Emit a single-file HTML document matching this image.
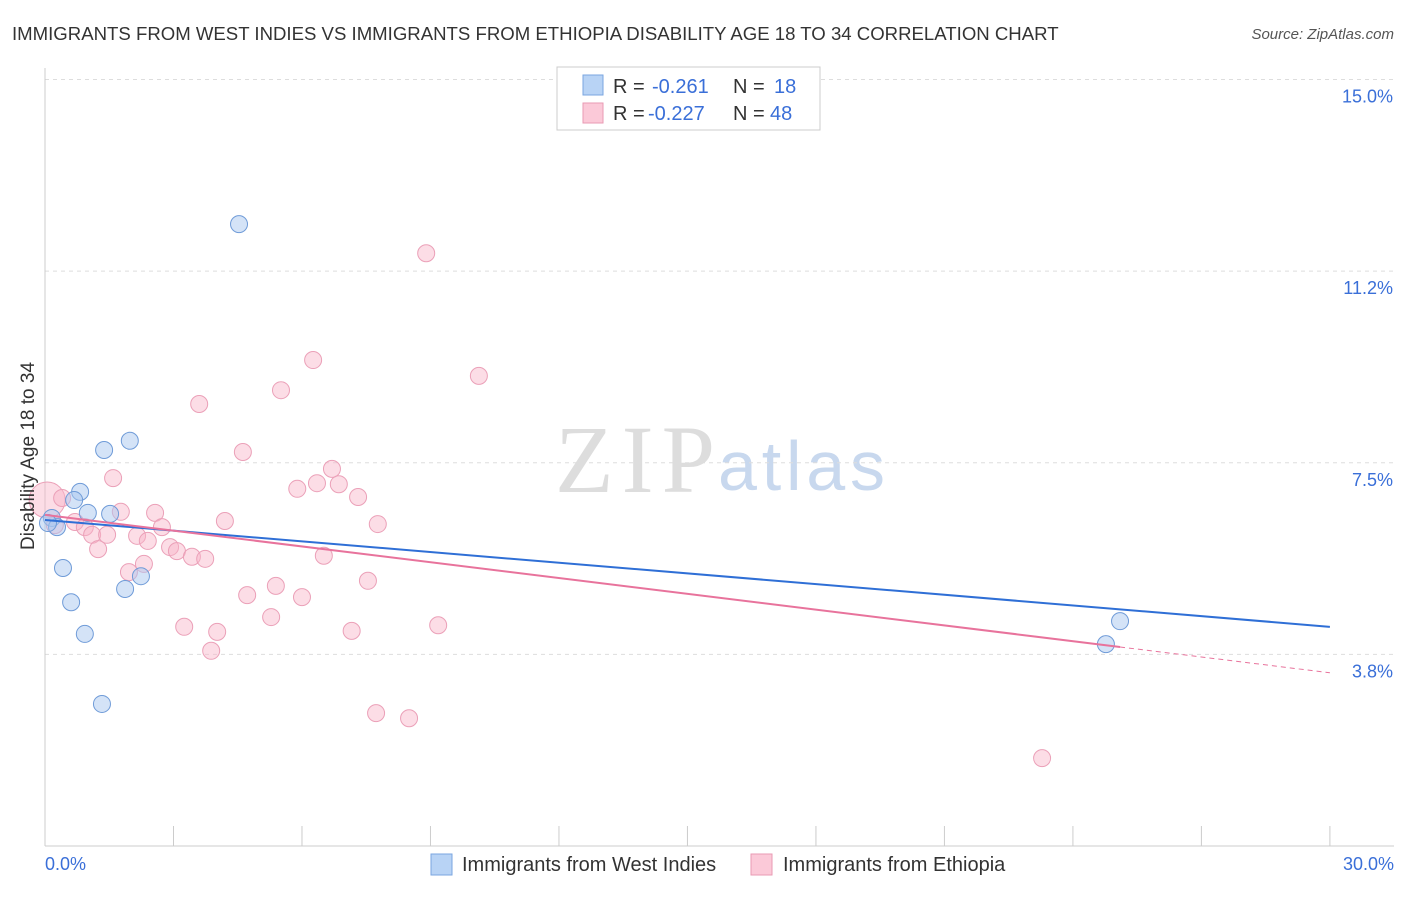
<!DOCTYPE html>
<html><head><meta charset="utf-8">
<style>
body{margin:0;background:#fff;font-family:"Liberation Sans",sans-serif;}
</style></head>
<body>
<svg id="chart" width="1406" height="892" xmlns="http://www.w3.org/2000/svg" font-family="Liberation Sans, sans-serif">
<text x="12" y="40" font-size="18.6" fill="#333">IMMIGRANTS FROM WEST INDIES VS IMMIGRANTS FROM ETHIOPIA DISABILITY AGE 18 TO 34 CORRELATION CHART</text>
<text x="1394" y="39" font-size="15" fill="#555" font-style="italic" text-anchor="end">Source: ZipAtlas.com</text>
<text x="715" y="492" font-size="96" fill="#ddd" style="font-family:'Liberation Serif',serif" text-anchor="end" textLength="160">ZIP</text>
<text x="718" y="490" font-size="70" fill="#c8d8ee" textLength="167">atlas</text>
<g id="grid"></g><g id="axes"></g><g id="marks"></g>
<text transform="translate(34,456) rotate(-90)" font-size="19" fill="#333" text-anchor="middle">Disability Age 18 to 34</text>
<g>
<rect x="557" y="67" width="263" height="63" fill="#fff" stroke="#ccc"/>
<rect x="583" y="75" width="20" height="20" fill="#b8d3f5" stroke="#7aa6e0"/>
<rect x="583" y="103" width="20" height="20" fill="#fbc9d8" stroke="#e89ab3"/>
<text x="613" y="93" font-size="20" fill="#333">R =</text>
<text x="652" y="93" font-size="20" fill="#3a6fd8">-0.261</text>
<text x="733" y="93" font-size="20" fill="#333">N =</text>
<text x="774" y="93" font-size="20" fill="#3a6fd8">18</text>
<text x="613" y="120" font-size="20" fill="#333">R =</text>
<text x="648" y="120" font-size="20" fill="#3a6fd8">-0.227</text>
<text x="733" y="120" font-size="20" fill="#333">N =</text>
<text x="770" y="120" font-size="20" fill="#3a6fd8">48</text>
</g>
<g>
<rect x="431" y="854" width="21" height="21" fill="#b8d3f5" stroke="#7aa6e0"/>
<text x="462" y="871" font-size="20" fill="#333">Immigrants from West Indies</text>
<rect x="751" y="854" width="21" height="21" fill="#fbc9d8" stroke="#e89ab3"/>
<text x="783" y="871" font-size="20" fill="#333">Immigrants from Ethiopia</text>
</g>
</svg>
<script>
const yTicks=[15.0,11.25,7.5,3.75];
const yTickLabels=["15.0%","11.2%","7.5%","3.8%"];
const xLabels=["0.0%","30.0%"];
const blueX=[0.16,0.28,0.42,0.61,0.82,0.68,1.0,0.93,1.38,1.33,1.52,1.87,1.98,2.24,4.53,24.77,25.1,0.07];
const blueY=[6.42,6.24,5.44,4.77,6.93,6.77,6.52,4.15,7.75,2.78,6.50,5.03,7.93,5.28,12.17,3.95,4.40,6.32];
const pinkX=[0.05,0.23,0.4,0.7,0.93,1.1,1.24,1.45,1.59,1.77,1.96,2.15,2.31,2.4,2.57,2.73,2.92,3.08,3.25,3.43,3.6,3.74,3.88,4.02,4.2,4.62,4.72,5.28,5.39,5.51,5.89,6.0,6.26,6.35,6.51,6.7,6.86,7.16,7.31,7.54,7.73,7.77,8.5,8.9,9.18,10.13,23.28];
const pinkY=[6.77,6.28,6.81,6.34,6.24,6.09,5.81,6.09,7.2,6.54,5.36,6.07,5.52,5.97,6.52,6.24,5.85,5.77,4.29,5.66,8.65,5.62,3.82,4.19,6.36,7.71,4.91,4.48,5.09,8.92,6.99,4.87,9.51,7.1,5.68,7.38,7.08,4.21,6.83,5.19,2.6,6.3,2.5,11.6,4.32,9.2,1.72];
const blueTrend=[6.38,-0.0697];
const pinkTrend=[6.48,-0.103];
const X=v=>45+v*42.83, Y=v=>846-v*51.1;
const NS="http://www.w3.org/2000/svg";
function mk(tag,attrs,parent){const e=document.createElementNS(NS,tag);for(const k in attrs)e.setAttribute(k,attrs[k]);document.getElementById(parent).appendChild(e);return e;}
yTicks.forEach((t,i)=>{
 const g=mk('line',{x1:45,x2:1394,y1:Y(t),y2:Y(t),stroke:'#ddd','stroke-dasharray':'4,4'},'grid');
 
 
 const l=mk('text',{x:1393,y:Y(t)+23,'font-size':18,fill:'#3a6fd8','text-anchor':'end'},'axes');l.textContent=yTickLabels[i];
 
 
});
mk('line',{x1:45,x2:45,y1:68,y2:846,stroke:'#ccc'},'axes');
mk('line',{x1:45,x2:1394,y1:846,y2:846,stroke:'#ccc'},'axes');
for(let i=0;i<=10;i++){const t=mk('line',{x1:X(i*3),x2:X(i*3),y1:826,y2:846,stroke:'#ccc'},'axes');
 
 }
[[0,'start',45],[30,'end',1394]].forEach((a,i)=>{const l=mk('text',{x:a[2],y:870,'font-size':18,fill:'#3a6fd8','text-anchor':a[1]},'axes');l.textContent=xLabels[i];
 
 });
pinkX.forEach((x,i)=>{const c=mk('circle',{cx:X(x),cy:Y(pinkY[i]),r:i==0?18:8.5,fill:'rgba(248,180,200,0.45)',stroke:'#eba0b8','stroke-width':1},'marks');
 
 });
blueX.forEach((x,i)=>{const c=mk('circle',{cx:X(x),cy:Y(blueY[i]),r:8.5,fill:'rgba(170,200,240,0.5)',stroke:'#6f9bd8','stroke-width':1},'marks');
 
 });
const bl=mk('line',{x1:X(0),y1:Y(blueTrend[0]),x2:X(30),y2:Y(blueTrend[0]+30*blueTrend[1]),stroke:'#2f6fd6','stroke-width':2},'marks');


const pl=mk('line',{x1:X(0),y1:Y(pinkTrend[0]),x2:X(25.1),y2:Y(pinkTrend[0]+25.1*pinkTrend[1]),stroke:'#e8739c','stroke-width':2},'marks');


const pd=mk('line',{x1:X(25.1),y1:Y(pinkTrend[0]+25.1*pinkTrend[1]),x2:X(30),y2:Y(pinkTrend[0]+30*pinkTrend[1]),stroke:'#e8739c','stroke-width':1,'stroke-dasharray':'5,4'},'marks');


</script>
</body></html>
